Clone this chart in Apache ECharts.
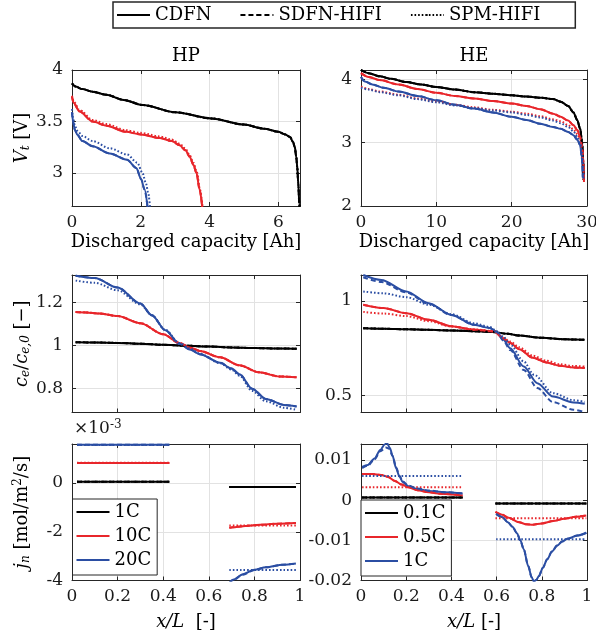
<!DOCTYPE html>
<html><head><meta charset="utf-8">
<script src="https://cdn.jsdelivr.net/npm/echarts@6/dist/echarts.min.js"></script>
<style>html,body{margin:0;padding:0;background:#fff}#c{width:596px;height:644px}</style>
</head><body><div id="c"></div>
<script>
// ---------- tick values ----------
const hpVxTicks = [0, 2, 4, 6];
const hpVyTicks = [3, 3.5, 4];
const heVxTicks = [0, 10, 20, 30];
const heVyTicks = [2, 3, 4];
const xLTicks = [0, 0.2, 0.4, 0.6, 0.8, 1];
const hpCyTicks = [0.8, 1, 1.2];
const heCyTicks = [0.5, 1];
const hpJyTicks = [-4, -2, 0];
const heJyTicks = [-0.02, -0.01, 0, 0.01];

// ---------- HP voltage [Ah, V] ----------
const hpV_1C_CDFN = [[0,3.87],[0.1,3.84],[0.3,3.815],[0.6,3.79],[1,3.76],[1.5,3.71],[2.06,3.66],[3,3.59],[4.05,3.53],[5,3.47],[5.6,3.43],[6,3.4],[6.2,3.375],[6.34,3.35],[6.43,3.3],[6.48,3.25],[6.52,3.16],[6.55,3.06],[6.58,2.9],[6.61,2.7],[6.63,2.6]];
const hpV_1C_SDFN = hpV_1C_CDFN;
const hpV_1C_SPM = hpV_1C_CDFN;
const hpV_10C_CDFN = [[0,3.74],[0.05,3.68],[0.21,3.6],[0.6,3.5],[1.0,3.46],[1.57,3.4],[2.0,3.375],[2.55,3.34],[2.9,3.31],[3.13,3.27],[3.3,3.22],[3.42,3.16],[3.53,3.08],[3.62,3.0],[3.71,2.84],[3.79,2.66]];
const hpV_10C_SDFN = hpV_10C_CDFN;
const hpV_10C_SPM = [[0,3.75],[0.05,3.695],[0.21,3.615],[0.6,3.515],[1.0,3.475],[1.57,3.415],[2.0,3.39],[2.55,3.355],[2.9,3.325],[3.13,3.285],[3.3,3.235],[3.42,3.175],[3.53,3.1],[3.63,3.01],[3.72,2.84],[3.8,2.66]];
const hpV_20C_CDFN = [[0,3.59],[0.03,3.5],[0.08,3.42],[0.16,3.37],[0.3,3.31],[0.6,3.26],[1.1,3.19],[1.6,3.13],[1.87,3.05],[2.01,2.94],[2.11,2.84],[2.2,2.66]];
const hpV_20C_SDFN = hpV_20C_CDFN;
const hpV_20C_SPM = [[0,3.62],[0.03,3.54],[0.08,3.46],[0.16,3.41],[0.3,3.36],[0.6,3.31],[1.1,3.24],[1.6,3.18],[1.9,3.1],[2.05,3.0],[2.15,2.9],[2.22,2.8],[2.27,2.66]];

// ---------- HE voltage [Ah, V] ----------
const heV_01C_CDFN = [[0,4.15],[1,4.1],[2.5,4.05],[4,4.01],[6,3.96],[8,3.92],[10,3.88],[12.5,3.84],[15,3.8],[17.5,3.775],[20,3.75],[22,3.73],[24,3.71],[25.5,3.69],[26.5,3.65],[27.5,3.58],[28.2,3.48],[28.7,3.36],[29.1,3.22],[29.35,3.0],[29.5,2.7],[29.57,2.41]];
const heV_01C_SDFN = heV_01C_CDFN;
const heV_01C_SPM = heV_01C_CDFN;
const heV_05C_CDFN = [[0,4.1],[1,4.04],[2.5,3.99],[5,3.92],[7.5,3.85],[10,3.79],[12.5,3.74],[15,3.7],[17.5,3.66],[20,3.62],[22,3.58],[23.8,3.53],[25.5,3.46],[26.5,3.41],[27.5,3.35],[28.2,3.28],[28.7,3.2],[29.1,3.09],[29.35,2.93],[29.5,2.75],[29.6,2.38]];
const heV_05C_SDFN = heV_05C_CDFN;
const heV_05C_SPM = [[0,3.89],[1,3.85],[2.5,3.81],[5,3.76],[7.5,3.7],[10,3.65],[12.5,3.6],[15,3.56],[17.5,3.52],[20,3.49],[22,3.46],[23.8,3.42],[25.5,3.37],[26.5,3.34],[27.5,3.28],[28.2,3.21],[28.7,3.14],[29.1,3.05],[29.35,2.9],[29.5,2.7],[29.6,2.38]];
const heV_1C_CDFN = [[0,4.04],[0.5,3.97],[1.5,3.92],[3,3.87],[5,3.81],[7.5,3.74],[10,3.67],[12.5,3.6],[15,3.54],[17.5,3.48],[20,3.41],[22,3.36],[23.8,3.3],[25.5,3.25],[26.5,3.22],[27.5,3.17],[28.2,3.12],[28.7,3.05],[29.1,2.96],[29.3,2.78],[29.45,2.45]];
const heV_1C_SDFN = heV_1C_CDFN;
const heV_1C_SPM = [[0,3.87],[1,3.84],[2.5,3.8],[5,3.75],[7.5,3.69],[10,3.64],[12.5,3.59],[15,3.55],[17.5,3.51],[20,3.48],[22,3.44],[23.8,3.4],[25.5,3.35],[26.5,3.31],[27.5,3.25],[28.2,3.18],[28.7,3.1],[29.1,3.0],[29.35,2.85],[29.5,2.6],[29.55,2.42]];

// ---------- HP electrolyte concentration [x/L, ce/ce0] ----------
const hpC_1C_CDFN = [[0.016,1.015],[0.1,1.014],[0.2,1.012],[0.3,1.008],[0.4,1.003],[0.5,0.999],[0.6,0.995],[0.7,0.991],[0.8,0.988],[0.9,0.986],[0.985,0.985]];
const hpC_1C_SDFN = hpC_1C_CDFN;
const hpC_1C_SPM = hpC_1C_CDFN;
const hpC_10C_CDFN = [[0.016,1.155],[0.06,1.153],[0.12,1.148],[0.2,1.136],[0.3,1.103],[0.4,1.052],[0.47,1.012],[0.52,0.99],[0.56,0.975],[0.65,0.945],[0.735,0.908],[0.82,0.876],[0.91,0.857],[0.985,0.853]];
const hpC_10C_SDFN = hpC_10C_CDFN;
const hpC_10C_SPM = hpC_10C_CDFN;
const hpC_20C_CDFN = [[0.016,1.323],[0.1,1.312],[0.2,1.268],[0.3,1.194],[0.35,1.14],[0.41,1.07],[0.47,1.008],[0.52,0.98],[0.56,0.96],[0.65,0.92],[0.7,0.893],[0.735,0.867],[0.79,0.8],[0.85,0.753],[0.93,0.725],[0.985,0.718]];
const hpC_20C_SDFN = hpC_20C_CDFN;
const hpC_20C_SPM = [[0.016,1.3],[0.1,1.29],[0.2,1.255],[0.3,1.19],[0.35,1.14],[0.41,1.072],[0.47,1.012],[0.52,0.985],[0.56,0.962],[0.65,0.918],[0.7,0.888],[0.735,0.86],[0.79,0.79],[0.85,0.742],[0.93,0.712],[0.985,0.702]];

// ---------- HE electrolyte concentration ----------
const heC_01C_CDFN = [[0.01,0.856],[0.1,0.853],[0.2,0.85],[0.3,0.847],[0.4,0.844],[0.5,0.84],[0.58,0.836],[0.65,0.826],[0.7,0.817],[0.8,0.805],[0.9,0.797],[0.99,0.794]];
const heC_01C_SDFN = heC_01C_CDFN;
const heC_01C_SPM = heC_01C_CDFN;
const heC_05C_CDFN = [[0.01,0.98],[0.1,0.962],[0.2,0.935],[0.3,0.9],[0.4,0.866],[0.5,0.848],[0.59,0.838],[0.63,0.8],[0.66,0.778],[0.7,0.745],[0.76,0.7],[0.82,0.675],[0.88,0.657],[0.94,0.648],[0.99,0.645]];
const heC_05C_SDFN = heC_05C_CDFN;
const heC_05C_SPM = [[0.01,0.942],[0.1,0.933],[0.2,0.92],[0.3,0.893],[0.4,0.865],[0.5,0.85],[0.59,0.84],[0.63,0.805],[0.66,0.785],[0.7,0.755],[0.76,0.71],[0.82,0.684],[0.88,0.665],[0.94,0.656],[0.99,0.653]];
const heC_1C_CDFN = [[0.01,1.137],[0.09,1.111],[0.2,1.05],[0.3,0.988],[0.4,0.926],[0.5,0.874],[0.57,0.857],[0.6,0.838],[0.63,0.795],[0.66,0.75],[0.72,0.653],[0.78,0.565],[0.85,0.494],[0.94,0.463],[0.99,0.456]];
const heC_1C_SDFN = [[0.01,1.125],[0.09,1.1],[0.2,1.045],[0.3,0.985],[0.4,0.925],[0.5,0.874],[0.57,0.857],[0.6,0.835],[0.63,0.79],[0.66,0.74],[0.72,0.635],[0.78,0.54],[0.85,0.465],[0.94,0.425],[0.99,0.412]];
const heC_1C_SPM = [[0.01,1.05],[0.1,1.04],[0.2,1.02],[0.3,0.98],[0.4,0.93],[0.5,0.882],[0.57,0.862],[0.6,0.84],[0.63,0.81],[0.66,0.77],[0.72,0.68],[0.765,0.61],[0.85,0.512],[0.94,0.475],[0.99,0.466]];

// ---------- HP pore-wall flux (x1e-3) : negative / positive electrode ----------
const hpJ_1C_CDFN_n = [[0.022,0.05],[0.427,0.05]];
const hpJ_1C_CDFN_p = [[0.69,-0.16],[0.982,-0.16]];
const hpJ_1C_SDFN_n = hpJ_1C_CDFN_n, hpJ_1C_SDFN_p = hpJ_1C_CDFN_p;
const hpJ_1C_SPM_n = hpJ_1C_CDFN_n, hpJ_1C_SPM_p = hpJ_1C_CDFN_p;
const hpJ_10C_CDFN_n = [[0.022,0.82],[0.427,0.82]];
const hpJ_10C_CDFN_p = [[0.69,-1.84],[0.706,-1.82],[0.75,-1.77],[0.8,-1.73],[0.85,-1.7],[0.9,-1.67],[0.982,-1.64]];
const hpJ_10C_SDFN_n = hpJ_10C_CDFN_n, hpJ_10C_SDFN_p = hpJ_10C_CDFN_p;
const hpJ_10C_SPM_n = [[0.022,0.83],[0.427,0.83]];
const hpJ_10C_SPM_p = [[0.69,-1.74],[0.982,-1.74]];
const hpJ_20C_CDFN_n = [[0.022,1.57],[0.427,1.57]];
const hpJ_20C_CDFN_p = [[0.69,-4.1],[0.706,-3.97],[0.75,-3.74],[0.8,-3.56],[0.85,-3.46],[0.925,-3.35],[0.982,-3.3]];
const hpJ_20C_SDFN_n = hpJ_20C_CDFN_n;
const hpJ_20C_SDFN_p = [[0.69,-4.12],[0.706,-3.99],[0.75,-3.76],[0.8,-3.57],[0.85,-3.46],[0.925,-3.35],[0.982,-3.31]];
const hpJ_20C_SPM_n = [[0.022,1.56],[0.427,1.56]];
const hpJ_20C_SPM_p = [[0.69,-3.57],[0.982,-3.57]];

// ---------- HE pore-wall flux ----------
const heJ_01C_CDFN_n = [[0.005,0.0007],[0.45,0.0007]];
const heJ_01C_CDFN_p = [[0.595,-0.0008],[0.997,-0.0008]];
const heJ_01C_SDFN_n = heJ_01C_CDFN_n, heJ_01C_SDFN_p = heJ_01C_CDFN_p;
const heJ_01C_SPM_n = heJ_01C_CDFN_n, heJ_01C_SPM_p = heJ_01C_CDFN_p;
const heJ_05C_CDFN_n = [[0.005,0.0065],[0.05,0.0065],[0.09,0.0063],[0.12,0.0058],[0.15,0.0048],[0.18,0.0039],[0.21,0.0032],[0.25,0.0025],[0.3,0.002],[0.35,0.0016],[0.45,0.0012]];
const heJ_05C_CDFN_p = [[0.595,-0.0029],[0.625,-0.0036],[0.65,-0.0043],[0.7,-0.0055],[0.73,-0.006],[0.76,-0.0061],[0.8,-0.0058],[0.85,-0.0052],[0.9,-0.0046],[0.95,-0.0041],[0.997,-0.0038]];
const heJ_05C_SDFN_n = heJ_05C_CDFN_n, heJ_05C_SDFN_p = heJ_05C_CDFN_p;
const heJ_05C_SPM_n = [[0.005,0.0032],[0.45,0.0032]];
const heJ_05C_SPM_p = [[0.595,-0.0045],[0.997,-0.0045]];
const heJ_1C_CDFN_n = [[0.005,0.0083],[0.03,0.0088],[0.06,0.0104],[0.085,0.0125],[0.105,0.0139],[0.115,0.0142],[0.128,0.013],[0.14,0.011],[0.155,0.008],[0.17,0.0059],[0.185,0.0045],[0.21,0.0035],[0.25,0.0028],[0.3,0.0023],[0.37,0.002],[0.45,0.0017]];
const heJ_1C_CDFN_p = [[0.598,-0.0034],[0.625,-0.0042],[0.65,-0.0055],[0.67,-0.0066],[0.69,-0.0082],[0.705,-0.01],[0.72,-0.0122],[0.74,-0.0164],[0.755,-0.0192],[0.765,-0.0202],[0.775,-0.0199],[0.787,-0.0189],[0.805,-0.0168],[0.824,-0.0147],[0.845,-0.0128],[0.868,-0.0113],[0.89,-0.0103],[0.913,-0.0096],[0.957,-0.0088],[0.997,-0.0081]];
const heJ_1C_SDFN_n = [[0.005,0.008],[0.03,0.0086],[0.06,0.0102],[0.085,0.0122],[0.11,0.0131],[0.125,0.0128],[0.14,0.011],[0.155,0.0082],[0.17,0.0061],[0.185,0.0047],[0.21,0.0036],[0.25,0.0029],[0.3,0.0024],[0.37,0.002],[0.45,0.0017]];
const heJ_1C_SDFN_p = heJ_1C_CDFN_p;
const heJ_1C_SPM_n = [[0.005,0.006],[0.45,0.006]];
const heJ_1C_SPM_p = [[0.598,-0.0097],[0.997,-0.0097]];

// ---------- styling ----------
const FONT = 'DejaVu Serif';
const AX = '#262626', GRID = '#e2e2e2', TXT = '#1a1a1a';
const BLACK = '#000000', RED = '#e8262b', BLUE = '#2b4ea3';
const richSet = {
  i: {fontFamily: FONT, fontSize: 18, fontStyle: 'italic', color: '#000'},
  s: {fontFamily: FONT, fontSize: 12, fontStyle: 'italic', color: '#000', padding: [8, 0, 0, 0]},
  u: {fontFamily: FONT, fontSize: 12, color: '#000', padding: [0, 0, 8, 0]}
};
const nameStyle = {fontFamily: FONT, fontSize: 18, color: '#000', rich: richSet};
const tickFont = {fontFamily: FONT, fontSize: 17, color: TXT};

const grids = [
  {left: 72, top: 70, width: 228, height: 136},
  {left: 361, top: 70, width: 226, height: 136},
  {left: 72, top: 275, width: 228, height: 137.5},
  {left: 361, top: 275, width: 226, height: 137.5},
  {left: 72, top: 444, width: 228, height: 136.5},
  {left: 361, top: 444, width: 226, height: 136.5}
].map(g => Object.assign({outerBoundsMode: 'none', containLabel: false}, g));

const xAxis = [], yAxis = [];
function addX(g, min, max, ticks, showLab, name, gap, title) {
  xAxis.push({
    type: 'value', gridIndex: g, min, max, position: 'bottom',
    axisLine: {show: true, onZero: false, lineStyle: {color: AX, width: 1}},
    axisTick: {show: true, inside: true, length: 4, customValues: ticks, lineStyle: {color: AX}},
    axisLabel: Object.assign({show: showLab, customValues: ticks, margin: 8}, tickFont),
    splitLine: {show: true, lineStyle: {color: GRID, width: 1}},
    name: name || '', nameLocation: 'middle', nameGap: gap || 0, nameTextStyle: nameStyle
  });
  xAxis.push({
    type: 'value', gridIndex: g, min, max, position: 'top',
    axisLine: {show: true, onZero: false, lineStyle: {color: AX, width: 1}},
    axisTick: {show: true, inside: true, length: 4, customValues: ticks, lineStyle: {color: AX}},
    axisLabel: {show: false}, splitLine: {show: false},
    name: title || '', nameLocation: 'middle', nameGap: 5, nameTextStyle: nameStyle
  });
}
function addY(g, min, max, ticks, name) {
  yAxis.push({
    type: 'value', gridIndex: g, min, max, position: 'left',
    axisLine: {show: true, onZero: false, lineStyle: {color: AX, width: 1}},
    axisTick: {show: true, inside: true, length: 4, customValues: ticks, lineStyle: {color: AX}},
    axisLabel: Object.assign({show: true, customValues: ticks, margin: 9}, tickFont),
    splitLine: {show: true, lineStyle: {color: GRID, width: 1}},
    name: name || '', nameLocation: 'middle', nameGap: 40, nameTextStyle: nameStyle
  });
  yAxis.push({
    type: 'value', gridIndex: g, min, max, position: 'right',
    axisLine: {show: true, onZero: false, lineStyle: {color: AX, width: 1}},
    axisTick: {show: true, inside: true, length: 4, customValues: ticks, lineStyle: {color: AX}},
    axisLabel: {show: false}, splitLine: {show: false}
  });
}
addX(0, 0, 6.63, hpVxTicks, true, 'Discharged capacity [Ah]', 27, 'HP');
addY(0, 2.68, 4, hpVyTicks, '{i|V}{s|t} [V]');
addX(1, 0, 30, heVxTicks, true, 'Discharged capacity [Ah]', 27, 'HE');
addY(1, 2, 4.15, heVyTicks, '');
addX(2, 0, 1, xLTicks, false, '', 0, '');
addY(2, 0.69, 1.326, hpCyTicks, '{i|c}{s|e}/{i|c}{s|e,0} [−]');
addX(3, 0, 1, xLTicks, false, '', 0, '');
addY(3, 0.41, 1.137, heCyTicks, '');
addX(4, 0, 1, xLTicks, true, '{i|x/L}  [-]', 33, '');
addY(4, -4, 1.6, hpJyTicks, '{i|j}{s|n} [mol/m{u|2}/s]');
addX(5, 0, 1, xLTicks, true, '{i|x/L} [-]', 33, '');
addY(5, -0.02, 0.014, heJyTicks, '');

const series = [];
let uid = 0;
function line(g, data, color, kind, name) {
  const type = kind === 'dash' ? [5, 3] : kind === 'dot' ? [1.6, 2] : 'solid';
  series.push({
    type: 'line', name: name || ('s' + (uid++)), xAxisIndex: 2 * g, yAxisIndex: 2 * g,
    data, symbol: 'none', showSymbol: false, smooth: 0.3, smoothMonotone: 'x', clip: true,
    animation: false, silent: true,
    lineStyle: {color, width: 2, type, cap: 'butt'}, itemStyle: {color},
    z: kind === 'solid' ? 2 : 3
  });
}
// legend dummies
line(0, [], BLACK, 'solid', 'CDFN');
line(0, [], BLACK, 'dash', 'SDFN-HIFI');
line(0, [], BLACK, 'dot', 'SPM-HIFI');

function trio(g, color, c, d, s, nm) {
  line(g, c, color, 'solid', nm);
  line(g, d, color, 'dash');
  line(g, s, color, 'dot');
}
trio(0, BLACK, hpV_1C_CDFN, hpV_1C_SDFN, hpV_1C_SPM);
trio(0, RED, hpV_10C_CDFN, hpV_10C_SDFN, hpV_10C_SPM);
trio(0, BLUE, hpV_20C_CDFN, hpV_20C_SDFN, hpV_20C_SPM);
trio(1, BLACK, heV_01C_CDFN, heV_01C_SDFN, heV_01C_SPM);
trio(1, RED, heV_05C_CDFN, heV_05C_SDFN, heV_05C_SPM);
trio(1, BLUE, heV_1C_CDFN, heV_1C_SDFN, heV_1C_SPM);
trio(2, BLACK, hpC_1C_CDFN, hpC_1C_SDFN, hpC_1C_SPM);
trio(2, RED, hpC_10C_CDFN, hpC_10C_SDFN, hpC_10C_SPM);
trio(2, BLUE, hpC_20C_CDFN, hpC_20C_SDFN, hpC_20C_SPM);
trio(3, BLACK, heC_01C_CDFN, heC_01C_SDFN, heC_01C_SPM);
trio(3, RED, heC_05C_CDFN, heC_05C_SDFN, heC_05C_SPM);
trio(3, BLUE, heC_1C_CDFN, heC_1C_SDFN, heC_1C_SPM);
trio(4, BLACK, hpJ_1C_CDFN_n, hpJ_1C_SDFN_n, hpJ_1C_SPM_n, 'HP 1C');
trio(4, BLACK, hpJ_1C_CDFN_p, hpJ_1C_SDFN_p, hpJ_1C_SPM_p, 'HP 1C');
trio(4, RED, hpJ_10C_CDFN_n, hpJ_10C_SDFN_n, hpJ_10C_SPM_n, 'HP 10C');
trio(4, RED, hpJ_10C_CDFN_p, hpJ_10C_SDFN_p, hpJ_10C_SPM_p, 'HP 10C');
trio(4, BLUE, hpJ_20C_CDFN_n, hpJ_20C_SDFN_n, hpJ_20C_SPM_n, 'HP 20C');
trio(4, BLUE, hpJ_20C_CDFN_p, hpJ_20C_SDFN_p, hpJ_20C_SPM_p, 'HP 20C');
trio(5, BLACK, heJ_01C_CDFN_n, heJ_01C_SDFN_n, heJ_01C_SPM_n, 'HE 0.1C');
trio(5, BLACK, heJ_01C_CDFN_p, heJ_01C_SDFN_p, heJ_01C_SPM_p, 'HE 0.1C');
trio(5, RED, heJ_05C_CDFN_n, heJ_05C_SDFN_n, heJ_05C_SPM_n, 'HE 0.5C');
trio(5, RED, heJ_05C_CDFN_p, heJ_05C_SDFN_p, heJ_05C_SPM_p, 'HE 0.5C');
trio(5, BLUE, heJ_1C_CDFN_n, heJ_1C_SDFN_n, heJ_1C_SPM_n, 'HE 1C');
trio(5, BLUE, heJ_1C_CDFN_p, heJ_1C_SDFN_p, heJ_1C_SPM_p, 'HE 1C');

const legTxt = {fontFamily: FONT, fontSize: 18, color: '#000'};
const legend = [
  {data: ['CDFN', 'SDFN-HIFI', 'SPM-HIFI'], orient: 'horizontal', left: 113, top: 2,
   itemWidth: 33, itemHeight: 2, itemGap: 28, padding: [4, 35, 4, 3],
   borderColor: '#262626', borderWidth: 1.5, backgroundColor: '#fff',
   selectedMode: false, textStyle: legTxt},
  {data: ['HP 1C', 'HP 10C', 'HP 20C'], formatter: n => n.slice(3), orient: 'vertical', left: 72.5, top: 499,
   itemWidth: 33, itemHeight: 2, itemGap: 6, padding: [4, 6, 6, 3],
   borderColor: '#262626', borderWidth: 1, backgroundColor: '#fff', selectedMode: false, textStyle: legTxt},
  {data: ['HE 0.1C', 'HE 0.5C', 'HE 1C'], formatter: n => n.slice(3), orient: 'vertical', left: 361, top: 500,
   itemWidth: 33, itemHeight: 2, itemGap: 6, padding: [4, 6, 6, 3],
   borderColor: '#262626', borderWidth: 1, backgroundColor: '#fff', selectedMode: false, textStyle: legTxt}
];

const title = [{
  text: '×10{u|-3}', left: 74, top: 419, padding: 0,
  textStyle: {fontFamily: FONT, fontSize: 17, fontWeight: 'normal', color: TXT,
    rich: {u: {fontFamily: FONT, fontSize: 12, color: TXT, padding: [0, 0, 8, 0]}}}
}];

const chart = echarts.init(document.getElementById('c'), null, {renderer: 'canvas'});
chart.setOption({
  backgroundColor: '#fff', animation: false,
  grid: grids, xAxis, yAxis, series, legend, title
});
</script></body></html>
